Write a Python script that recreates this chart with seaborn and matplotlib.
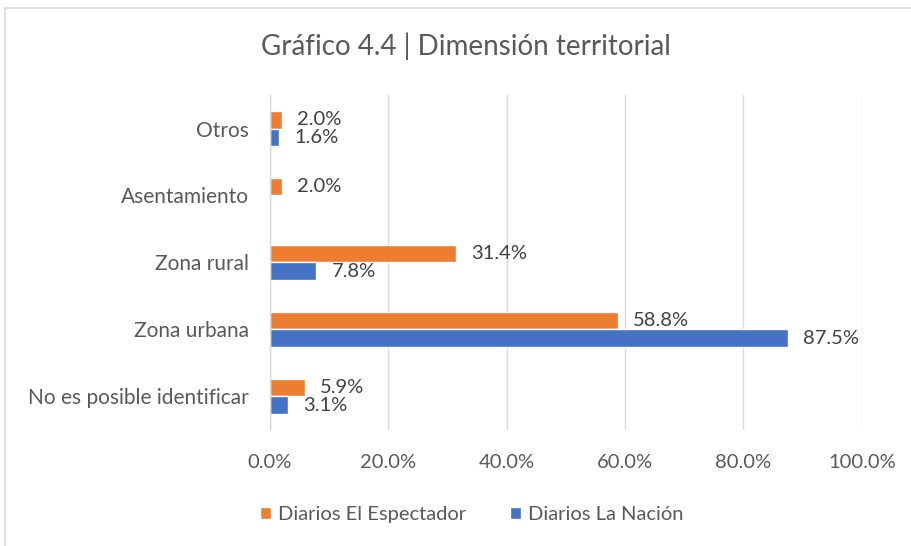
import matplotlib
matplotlib.use("Agg")
import matplotlib.pyplot as plt
import seaborn as sns
import pandas as pd
from matplotlib.patches import Rectangle

categories = ["Otros", "Asentamiento", "Zona rural", "Zona urbana", "No es posible identificar"]
espectador = [2.0, 2.0, 31.4, 58.8, 5.9]
nacion = [1.6, 0.0, 7.8, 87.5, 3.1]
series = ["Diarios El Espectador", "Diarios La Nación"]
xticks = [0, 20, 40, 60, 80, 100]

df = pd.DataFrame({
    "cat": categories * 2,
    "val": espectador + nacion,
    "serie": [series[0]] * len(categories) + [series[1]] * len(categories),
})

sns.set_theme(style="white")
plt.rcParams["font.family"] = ["Lato", "DejaVu Sans"]
txt = "#595959"

fig = plt.figure(figsize=(9.12, 5.46), dpi=100)
ax = fig.add_axes([0.296, 0.2125, 0.649, 0.6135])

sns.barplot(data=df, y="cat", x="val", hue="serie", order=categories,
            hue_order=series, palette=["#ED7D31", "#4472C4"], width=0.52,
            saturation=1, orient="h", ax=ax, legend=True)

for cont in ax.containers:
    labels = [f"{v:.1f}%" if v > 0 else "" for v in cont.datavalues]
    ax.bar_label(cont, labels=labels, padding=11, fontsize=14.5, color="#404040",
                 label_type="edge")

ax.set_xlim(0, 100)
ax.set_xticks(xticks)
ax.set_xticklabels([f"{t:.1f}%" for t in xticks], fontsize=14.5, color=txt)
ax.tick_params(axis="y", labelsize=15, labelcolor=txt, length=0, pad=15)
ax.tick_params(axis="x", length=0, pad=17)
ax.set_xlabel("")
ax.set_ylabel("")
ax.grid(axis="x", color="#d9d9d9", linewidth=1)
ax.set_axisbelow(True)
for s in ["top", "right", "bottom"]:
    ax.spines[s].set_visible(False)
ax.spines["left"].set_color("#d9d9d9")
ax.spines["left"].set_linewidth(1)

leg = ax.legend(loc="upper center", bbox_to_anchor=(0.341, -0.172), ncol=2, frameon=False,
                fontsize=14.5, handlelength=0.55, handleheight=0.55, handletextpad=0.35,
                columnspacing=2.2)
for t in leg.get_texts():
    t.set_color(txt)

fig.text(0.511, 0.916, "Gráfico 4.4 | Dimensión territorial", ha="center", va="center",
         fontsize=20, color=txt)

fig.patches.append(Rectangle((5 / 912, -0.05), 1.2, 1 - 8 / 546 + 0.05,
                             transform=fig.transFigure, fill=False,
                             edgecolor="#d9d9d9", linewidth=1.2))

fig.savefig("out.png", dpi=100)
